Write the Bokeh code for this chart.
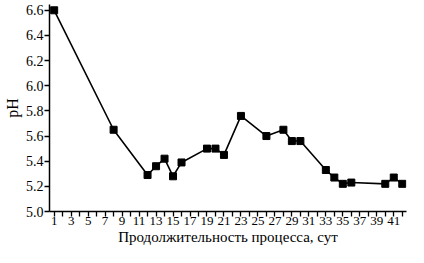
from bokeh.plotting import figure
from bokeh.models import FixedTicker, Range1d, PrintfTickFormatter
from bokeh.embed import file_html
from bokeh.resources import INLINE

days = [1, 8, 12, 13, 14, 15, 16, 19, 20, 21, 23, 26, 28, 29, 30, 33, 34, 35, 36, 40, 41, 42]
ph = [6.60, 5.65, 5.29, 5.36, 5.42, 5.28, 5.39, 5.50, 5.50, 5.45, 5.76, 5.60, 5.65, 5.56, 5.56,
      5.33, 5.27, 5.22, 5.23, 5.22, 5.27, 5.22]
x_major_ticks = list(range(1, 42, 2))
x_minor_ticks = list(range(2, 43, 2))
y_ticks = [5.0, 5.2, 5.4, 5.6, 5.8, 6.0, 6.2, 6.4, 6.6]
x_title = "Продолжительность процесса, сут"
y_title = "pH"

FONT = "'Liberation Serif', 'Times New Roman', serif"

p = figure(width=408, height=247, output_backend="svg", toolbar_location=None,
           x_range=Range1d(0.45, 42.5), y_range=Range1d(5.0, 6.646),
           min_border_left=2, min_border_right=2, min_border_top=4, min_border_bottom=0)
p.outline_line_color = None
p.xgrid.visible = False
p.ygrid.visible = False

p.line(days, ph, line_color="black", line_width=1.6)
p.scatter(days, ph, marker="square", size=7, fill_color="black", line_color="black")

p.xaxis.ticker = FixedTicker(ticks=x_major_ticks, minor_ticks=x_minor_ticks)
p.yaxis.ticker = FixedTicker(ticks=y_ticks, minor_ticks=[])
p.yaxis.formatter = PrintfTickFormatter(format="%.1f")

for ax in (p.xaxis[0], p.yaxis[0]):
    ax.axis_line_color = "black"
    ax.axis_line_width = 1.5
    ax.major_tick_line_color = "black"
    ax.major_tick_line_width = 1.3
    ax.minor_tick_line_color = "black"
    ax.minor_tick_line_width = 1.3
    ax.major_tick_in = 0
    ax.major_tick_out = 5
    ax.minor_tick_in = 0
    ax.minor_tick_out = 5
    ax.major_label_text_font = FONT
    ax.major_label_text_font_size = "14px"
    ax.major_label_text_color = "black"
    ax.major_label_standoff = 1
    ax.axis_label_text_font = FONT
    ax.axis_label_text_font_size = "16px"
    ax.axis_label_text_font_style = "normal"
    ax.axis_label_text_color = "black"
    ax.axis_label_standoff = 2

p.xaxis.major_label_text_font_size = "13px"
p.xaxis.major_label_standoff = 0
p.xaxis.axis_label_text_font_size = "15px"
p.xaxis.axis_label_standoff = 1

p.xaxis.axis_label = x_title
p.yaxis.axis_label = y_title

open("out.html", "w").write(file_html(p, INLINE))
